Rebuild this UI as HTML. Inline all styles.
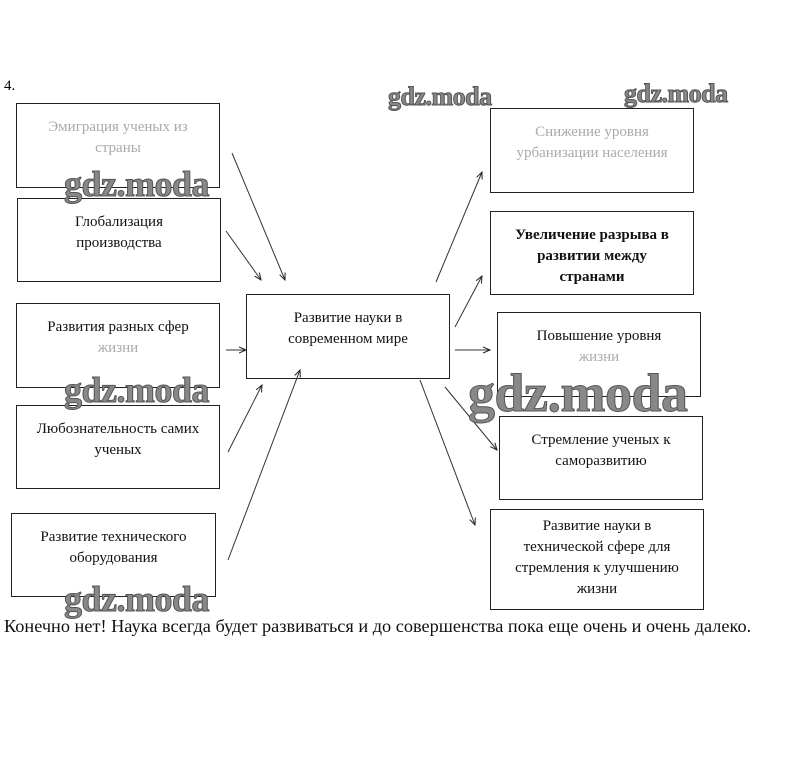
<!DOCTYPE html>
<html><head><meta charset="utf-8"><style>
body{margin:0;width:805px;height:774px;background:#fff;position:relative;font-family:"Liberation Serif","DejaVu Serif",serif;overflow:hidden}
.b{position:absolute;border:1px solid #222;box-sizing:border-box;text-align:center;font-size:15px;line-height:21px;color:#111;padding-top:13px}
.w{position:absolute;font-family:"Liberation Serif",serif;font-weight:bold;font-size:36px;line-height:1;color:#888;-webkit-text-stroke:1px #555;letter-spacing:-0.5px}
.g{color:#aaa}
svg{position:absolute;left:0;top:0}
</style></head><body>
<div style="position:absolute;left:4px;top:78px;font-size:15px">4.</div>
<div class="b" style="left:16px;top:103px;width:204px;height:85px"><span class="g">Эмиграция ученых из<br>страны</span></div>
<div class="b" style="left:17px;top:198px;width:204px;height:84px">Глобализация<br>производства</div>
<div class="b" style="left:16px;top:303px;width:204px;height:85px">Развития разных сфер<br><span class="g">жизни</span></div>
<div class="b" style="left:16px;top:405px;width:204px;height:84px">Любознательность самих<br>ученых</div>
<div class="b" style="left:11px;top:513px;width:205px;height:84px">Развитие технического<br>оборудования</div>
<div class="b" style="left:246px;top:294px;width:204px;height:85px">Развитие науки в<br>современном мире</div>
<div class="b" style="left:490px;top:108px;width:204px;height:85px"><span class="g">Снижение уровня<br>урбанизации населения</span></div>
<div class="b" style="left:490px;top:211px;width:204px;height:84px;font-weight:bold">Увеличение разрыва в<br>развитии между<br>странами</div>
<div class="b" style="left:497px;top:312px;width:204px;height:85px">Повышение уровня<br><span class="g">жизни</span></div>
<div class="b" style="left:499px;top:416px;width:204px;height:84px">Стремление ученых к<br>саморазвитию</div>
<div class="b" style="left:490px;top:509px;width:214px;height:101px;padding-top:6px">Развитие науки в<br>технической сфере для<br>стремления к улучшению<br>жизни</div>
<svg width="805" height="774">
<defs><marker id="a" markerWidth="8" markerHeight="8" refX="7" refY="4" orient="auto"><path d="M0,1 L7,4 L0,7" fill="none" stroke="#222" stroke-width="1"/></marker></defs>
<g stroke="#333" stroke-width="1" marker-end="url(#a)">
<line x1="232" y1="153" x2="285" y2="280"/>
<line x1="226" y1="231" x2="261" y2="280"/>
<line x1="226" y1="350" x2="246" y2="350"/>
<line x1="228" y1="452" x2="262" y2="385"/>
<line x1="228" y1="560" x2="300" y2="370"/>
<line x1="436" y1="282" x2="482" y2="172"/>
<line x1="455" y1="327" x2="482" y2="276"/>
<line x1="455" y1="350" x2="490" y2="350"/>
<line x1="445" y1="387" x2="497" y2="450"/>
<line x1="420" y1="380" x2="475" y2="525"/>
</g></svg>
<div class="w" style="left:388px;top:84px;font-size:26px">gdz.moda</div>
<div class="w" style="left:624px;top:81px;font-size:26px">gdz.moda</div>
<div class="w" style="left:64px;top:166px">gdz.moda</div>
<div class="w" style="left:64px;top:372px">gdz.moda</div>
<div class="w" style="left:64px;top:581px">gdz.moda</div>
<div class="w" style="left:468px;top:366px;font-size:54px">gdz.moda</div>
<div style="position:absolute;left:4px;top:616px;font-size:18.3px;color:#111">Конечно нет! Наука всегда будет развиваться и до совершенства пока еще очень и очень далеко.</div>
</body></html>
